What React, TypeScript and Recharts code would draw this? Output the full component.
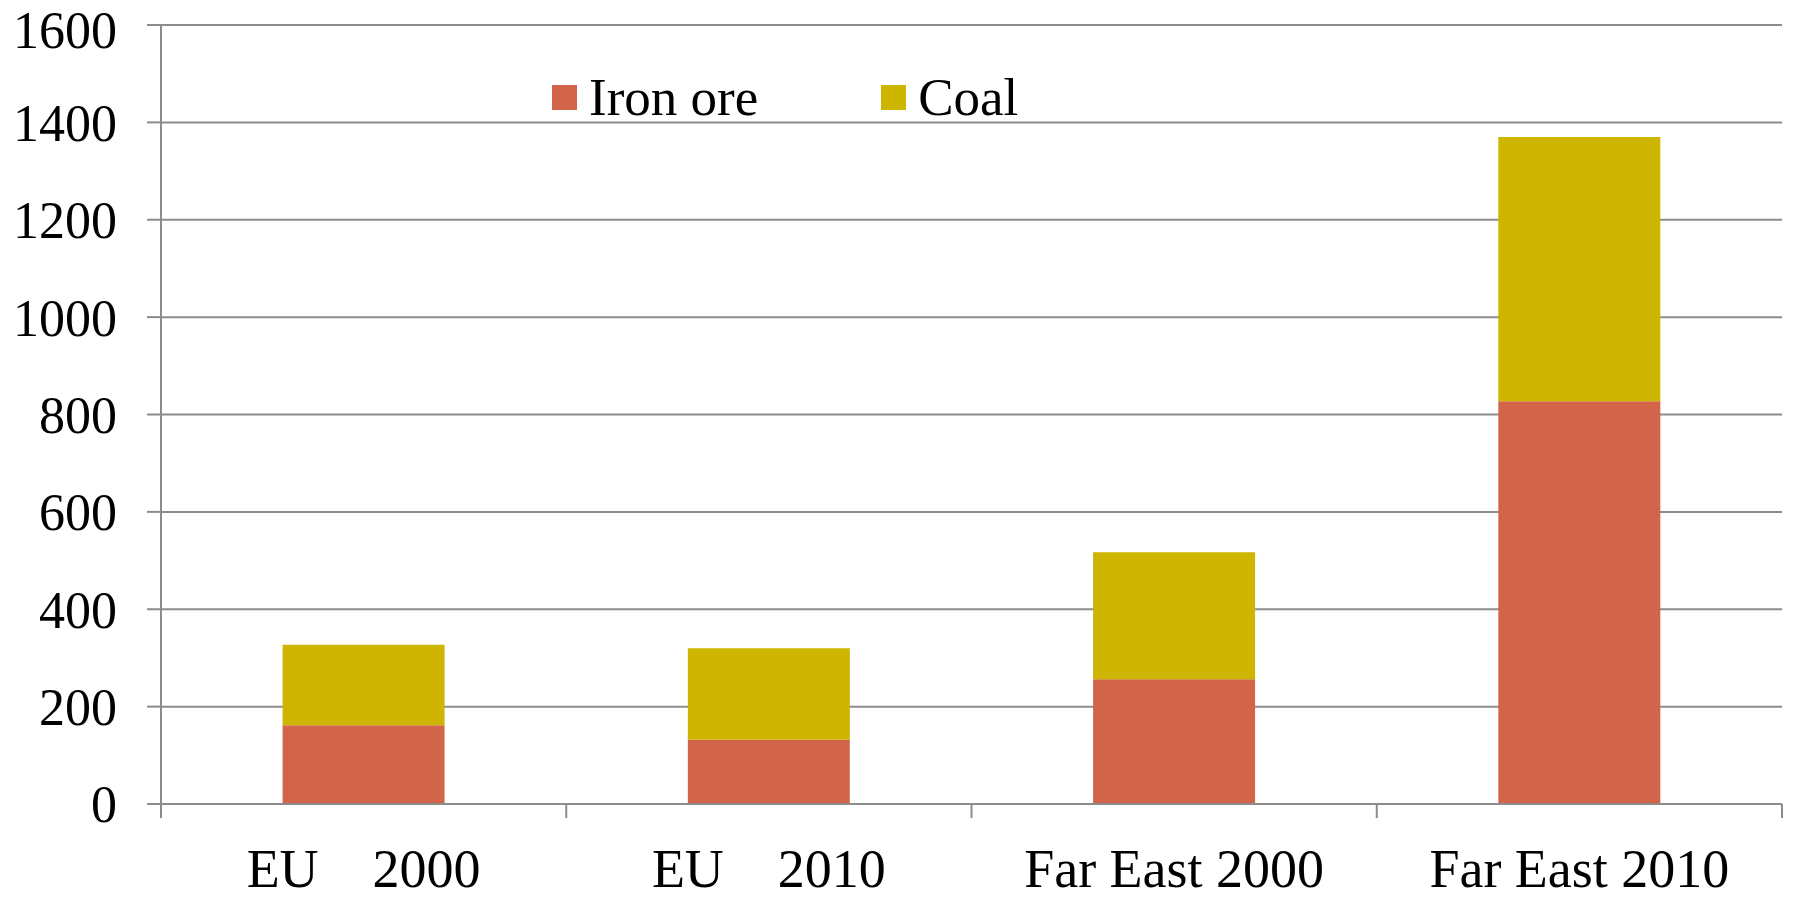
import { BarChart, Bar, XAxis, YAxis, CartesianGrid, Legend } from "recharts";

const categories = ["EU\u00A0\u00A0\u00A0 2000", "EU\u00A0\u00A0\u00A0 2010", "Far East 2000", "Far East 2010"];
const ironOre = [162, 132, 256, 827];
const coal = [165, 188, 261, 543];
const yTicks = [0, 200, 400, 600, 800, 1000, 1200, 1400, 1600];

const series = [
  { key: "iron", label: "Iron ore", color: "#D2644A" },
  { key: "coal", label: "Coal", color: "#CDB500" },
];

const data = categories.map((name, i) => ({ name, iron: ironOre[i], coal: coal[i] }));

const FONT = "'Liberation Serif', 'Times New Roman', serif";
const GRID = "#8c8c8c";

function LegendBox() {
  return (
    <div style={{ display: "flex", fontFamily: FONT, fontSize: 53, color: "#000", lineHeight: 1 }}>
      {series.map((s, i) => (
        <div key={s.key} style={{ display: "flex", alignItems: "center", marginRight: i === 0 ? 123 : 0 }}>
          <span style={{ width: 25, height: 25, background: s.color, display: "inline-block", marginRight: 12 }} />
          <span>{s.label}</span>
        </div>
      ))}
    </div>
  );
}

// category label plus tick marks on the band edges (like Excel's "between" ticks)
function CatTick(props: any) {
  const { x, y, payload, index, visibleTicksCount } = props;
  const off = payload?.offset ?? 0;
  const isLast = index === visibleTicksCount - 1;
  return (
    <g>
      <line x1={x - off} x2={x - off} y1={y} y2={y + 14} stroke={GRID} strokeWidth={2} />
      {isLast && <line x1={x + off} x2={x + off} y1={y} y2={y + 14} stroke={GRID} strokeWidth={2} />}
      <text x={x} y={y + 83} textAnchor="middle" fontFamily={FONT} fontSize={54} fill="#000">
        {payload.value}
      </text>
    </g>
  );
}

export default function App() {
  return (
    <div style={{ position: "absolute", left: 0, top: 0, background: "#fff" }}>
      <BarChart width={1793} height={898} data={data} margin={{ top: 25, right: 11, bottom: 0, left: 0 }} barCategoryGap="30%">
        <CartesianGrid vertical={false} stroke={GRID} strokeWidth={2} />
        <XAxis
          dataKey="name"
          height={94}
          axisLine={{ stroke: GRID, strokeWidth: 2 }}
          tickLine={false}
          tickSize={0}
          tickMargin={0}
          interval={0}
          tick={<CatTick />}
        />
        <YAxis
          width={161}
          domain={[0, 1600]}
          ticks={yTicks}
          tickSize={14}
          tickMargin={30}
          axisLine={{ stroke: GRID, strokeWidth: 2 }}
          tickLine={{ stroke: GRID, strokeWidth: 2 }}
          tick={{ fontFamily: FONT, fontSize: 52, fill: "#000" }}
        />
        <Legend
          layout="horizontal"
          verticalAlign="middle"
          align="center"
          content={<LegendBox />}
          wrapperStyle={{ position: "absolute", top: 71, left: 552, width: "auto" }}
        />
        {series.map((s) => (
          <Bar key={s.key} dataKey={s.key} name={s.label} stackId="a" fill={s.color} isAnimationActive={false} />
        ))}
      </BarChart>
    </div>
  );
}
